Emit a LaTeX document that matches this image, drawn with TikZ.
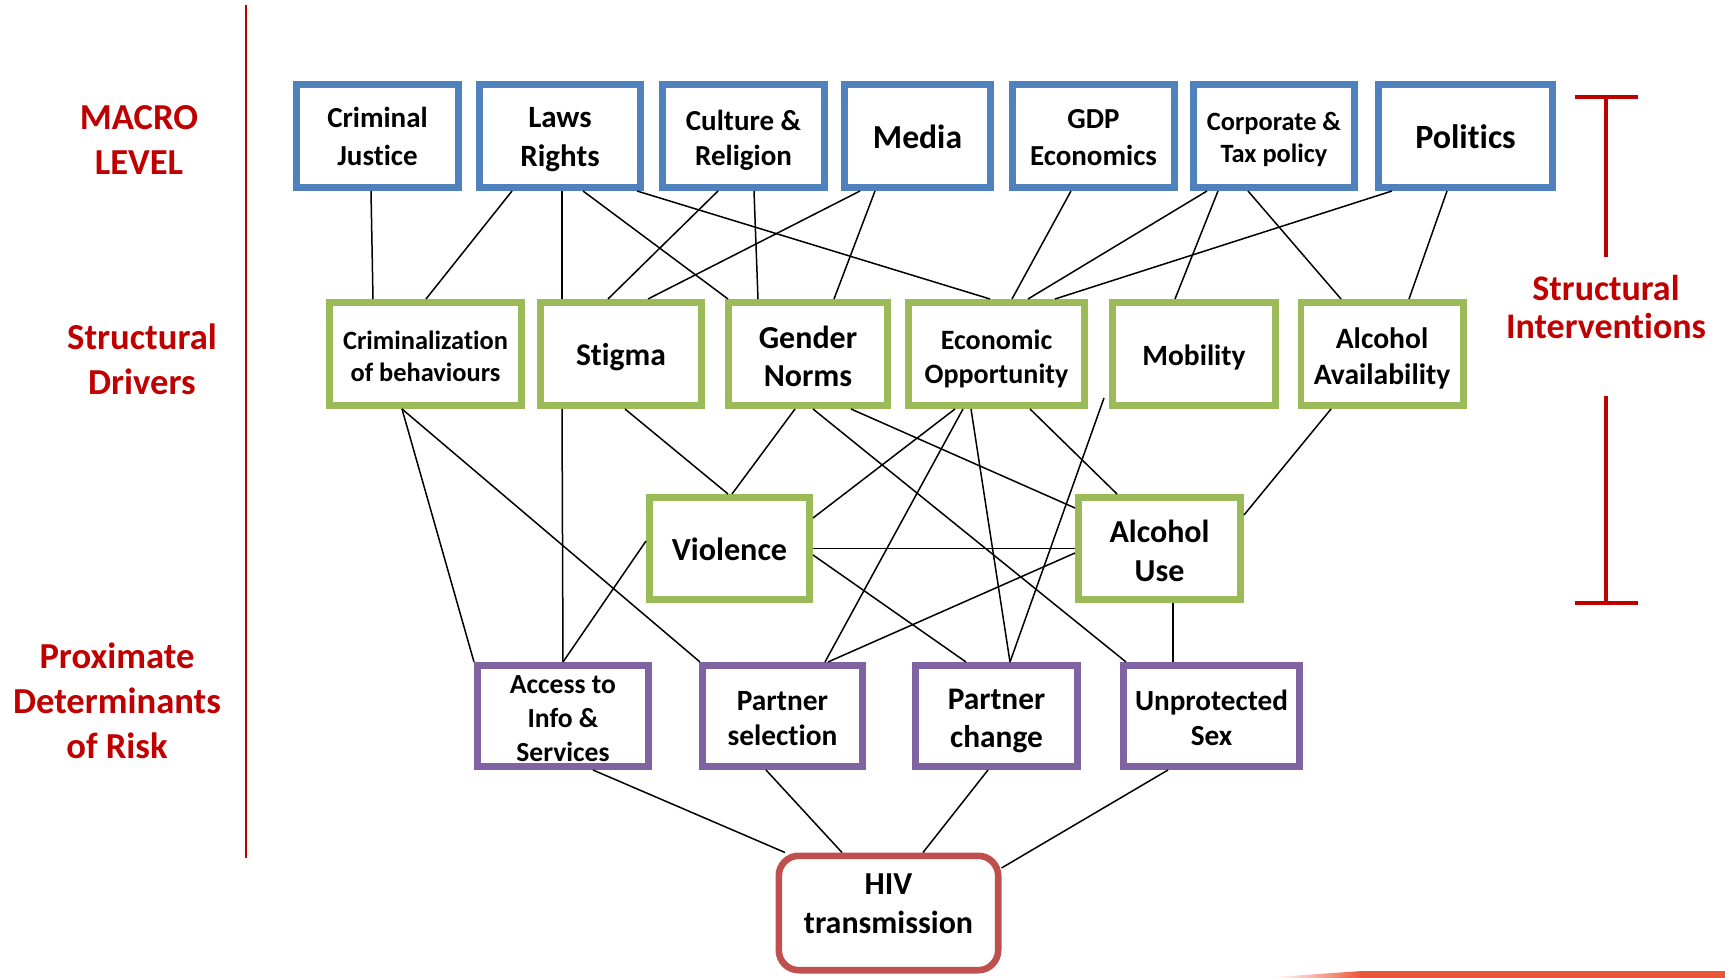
\documentclass[tikz,border=0pt]{standalone}
\usepackage{fontspec}
\setmainfont{Carlito}[Ligatures=CommonOff]
\usetikzlibrary{calc}
\definecolor{bxblue}{RGB}{79,129,189}
\definecolor{bxgreen}{RGB}{155,187,89}
\definecolor{bxpurple}{RGB}{128,100,162}
\definecolor{bxred}{RGB}{192,80,77}
\definecolor{lblred}{RGB}{192,0,0}
\definecolor{smearc}{RGB}{233,85,56}
\tikzset{
  bx/.style={draw, line width=3.3pt, fill=white, inner sep=0pt},
  wh/.style 2 args={minimum width=#1*0.5pt-3.3pt, minimum height=#2*0.5pt-3.3pt},
  macrobox/.style={bx, draw=bxblue},
  drvbox/.style={bx, draw=bxgreen},
  proxbox/.style={bx, draw=bxpurple},
  hivbox/.style={bx, draw=bxred, rounded corners=10pt},
  fs/.style 2 args={font=\bfseries\fontsize{#1}{#2}\selectfont},
  every label/.style={align=center, text=black},
  lvl/.style={text=lblred, align=center, fs={18.3}{22.5}},
  conn/.style={draw=black, line width=0.75pt},
  redline/.style={draw=lblred, line width=1.4pt},
  bracket/.style={draw=lblred, line width=2pt}
}
\begin{document}
\begin{tikzpicture}[x=0.5pt,y=-0.5pt]
\useasboundingbox (0,0) rectangle (1725,978);

% level labels
\node[lvl] (macro) at (139,140) {MACRO\\LEVEL};
\node[lvl] (sdrv) at (142,359) {Structural\\Drivers};
\node[lvl] (prox) at (117,701) {Proximate\\Determinants\\of Risk};
\node[lvl, fs={18}{19.3}] (sint) at (1606,307) {Structural\\Interventions};
\draw[redline] (246,5) -- (246,858);
\draw[bracket] (1575,97) -- (1638,97) (1606,97) -- (1606,257)
  (1606,396) -- (1606,603) (1575,603) -- (1638,603);

% bottom smear
\fill[smearc] (1360,971) -- (1725,971) -- (1725,978) -- (1360,978) -- cycle;
\shade[left color=white, right color=smearc] (1275,977) -- (1362,971) -- (1362,978) -- (1275,978) -- cycle;

% macro level
\node[macrobox, wh={169}{110}, label={[fs={14.5}{18.7}, yshift=-0.3pt]center:{Criminal\\Justice}}] (cj) at (377.5,136) {};
\node[macrobox, wh={168}{110}, label={[fs={15.5}{19.3}, yshift=-1.9pt]center:{Laws\\Rights}}] (laws) at (560,136) {};
\node[macrobox, wh={169}{110}, label={[fs={14.5}{17.8}, yshift=-2.2pt]center:{Culture \&\\Religion}}] (culture) at (743.5,136) {};
\node[macrobox, wh={153}{110}, label={[fs={16.8}{20}, yshift=-0.6pt]center:{Media}}] (media) at (917.5,136) {};
\node[macrobox, wh={169}{110}, label={[fs={14.5}{18.2}, yshift=-0.8pt]center:{GDP\\Economics}}] (gdp) at (1093.5,136) {};
\node[macrobox, wh={168}{110}, label={[fs={13.2}{16}, yshift=-1.7pt]center:{Corporate \&\\Tax policy}}] (corp) at (1274,136) {};
\node[macrobox, wh={181}{110}, label={[fs={17}{20}, yshift=-0.6pt]center:{Politics}}] (pol) at (1465.5,136) {};

% structural drivers
\node[drvbox, wh={199}{110}, label={[fs={13.2}{16}, yshift=-1.1pt]center:{Criminalization\\of behaviours}}] (crim) at (425.5,354) {};
\node[drvbox, wh={168}{110}, label={[fs={15.8}{19}, yshift=-1.7pt]center:{Stigma}}] (stigma) at (621,354) {};
\node[drvbox, wh={166}{110}, label={[fs={16}{18.7}, yshift=-1.1pt]center:{Gender\\Norms}}] (gender) at (808,354) {};
\node[drvbox, wh={183}{110}, label={[fs={14}{17}, yshift=-2.2pt]center:{Economic\\Opportunity}}] (econ) at (996.5,354) {};
\node[drvbox, wh={170}{110}, label={[fs={14.7}{18}, yshift=-1.7pt]center:{Mobility}}] (mob) at (1194,354) {};
\node[drvbox, wh={169}{110}, label={[fs={14.8}{17.6}, yshift=-2.2pt]center:{Alcohol\\Availability}}] (alcav) at (1382,354) {};

\node[drvbox, wh={167}{109}, label={[fs={16.1}{19}, yshift=-0.6pt]center:{Violence}}] (viol) at (729.5,548.5) {};
\node[drvbox, wh={169}{109}, label={[fs={16}{19.3}, yshift=-1.1pt]center:{Alcohol\\Use}}] (alcuse) at (1159.5,548.5) {};

% proximate determinants
\node[proxbox, wh={178}{108}, label={[fs={13.8}{17}, yshift=-1.1pt]center:{Access to\\Info \&\\Services}}] (access) at (563,716) {};
\node[proxbox, wh={167}{108}, label={[fs={14.7}{17.6}, yshift=-1.4pt]center:{Partner\\selection}}] (psel) at (782.5,716) {};
\node[proxbox, wh={169}{108}, label={[fs={15.7}{19.3}, yshift=-2.5pt]center:{Partner\\change}}] (pchange) at (996.5,716) {};
\node[proxbox, wh={183}{108}, label={[fs={14.6}{17.6}, yshift=-1.1pt]center:{Unprotected\\Sex}}] (unprot) at (1211.5,716) {};

\node[hivbox, wh={226}{121}, label={[fs={16}{19.3}, yshift=4.7pt]center:{HIV\\transmission}}] (hiv) at (888.5,913) {};

% connectors: macro -> structural
\draw[conn] (371,0 |- cj.south) -- (373,0 |- crim.north);
\draw[conn] (512,0 |- laws.south) -- (426,0 |- crim.north);
\draw[conn] (562,0 |- laws.south) -- (562,0 |- stigma.north);
\draw[conn] (583,0 |- laws.south) -- (728,0 |- gender.north);
\draw[conn] (637,0 |- laws.south) -- (990,0 |- econ.north);
\draw[conn] (718,0 |- culture.south) -- (608,0 |- stigma.north);
\draw[conn] (754,0 |- culture.south) -- (758,0 |- gender.north);
\draw[conn] (860,0 |- media.south) -- (648,0 |- stigma.north);
\draw[conn] (875,0 |- media.south) -- (834,0 |- gender.north);
\draw[conn] (1071,0 |- gdp.south) -- (1012,0 |- econ.north);
\draw[conn] (1207,0 |- corp.south) -- (1028,0 |- econ.north);
\draw[conn] (1218,0 |- corp.south) -- (1175,0 |- mob.north);
\draw[conn] (1248,0 |- corp.south) -- (1341,0 |- alcav.north);
\draw[conn] (1392,0 |- pol.south) -- (1055,0 |- econ.north);
\draw[conn] (1447,0 |- pol.south) -- (1409,0 |- alcav.north);

% structural -> lower
\draw[conn] (402,0 |- crim.south) -- (474,0 |- access.north);
\draw[conn] (402,0 |- crim.south) -- (700,0 |- psel.north);
\draw[conn] (562,0 |- stigma.south) -- (563,0 |- access.north);
\draw[conn] (625,0 |- stigma.south) -- (728,0 |- viol.north);
\draw[conn] (795,0 |- gender.south) -- (732,0 |- viol.north);
\draw[conn] (813,0 |- gender.south) -- (1126,0 |- unprot.north);
\draw[conn] (851,0 |- gender.south) -- (alcuse.west |- 0,508);
\draw[conn] (955,0 |- econ.south) -- (viol.east |- 0,518);
\draw[conn] (963,0 |- econ.south) -- (825,0 |- psel.north);
\draw[conn] (971,0 |- econ.south) -- (1010,0 |- pchange.north);
\draw[conn] (1030,0 |- econ.south) -- (1117,0 |- alcuse.north);
\draw[conn] ($(mob.south west)+(-5,-11)$) -- (1010,0 |- pchange.north);
\draw[conn] (1331,0 |- alcav.south) -- (alcuse.east |- 0,515);

% violence / alcohol use
\draw[conn] (viol.east) -- (alcuse.west);
\draw[conn] (viol.east |- 0,555) -- (966,0 |- pchange.north);
\draw[conn] (viol.west |- 0,541) -- (563,0 |- access.north);
\draw[conn] (alcuse.west |- 0,553) -- (828,0 |- psel.north);
\draw[conn] (1173,0 |- alcuse.south) -- (1173,0 |- unprot.north);

% proximate -> HIV
\draw[conn] (593,0 |- access.south) -- (785,0 |- hiv.north);
\draw[conn] (766,0 |- psel.south) -- (842,0 |- hiv.north);
\draw[conn] (988,0 |- pchange.south) -- (923,0 |- hiv.north);
\draw[conn] (1168,0 |- unprot.south) -- (hiv.east |- 0,868);
\end{tikzpicture}
\end{document}
